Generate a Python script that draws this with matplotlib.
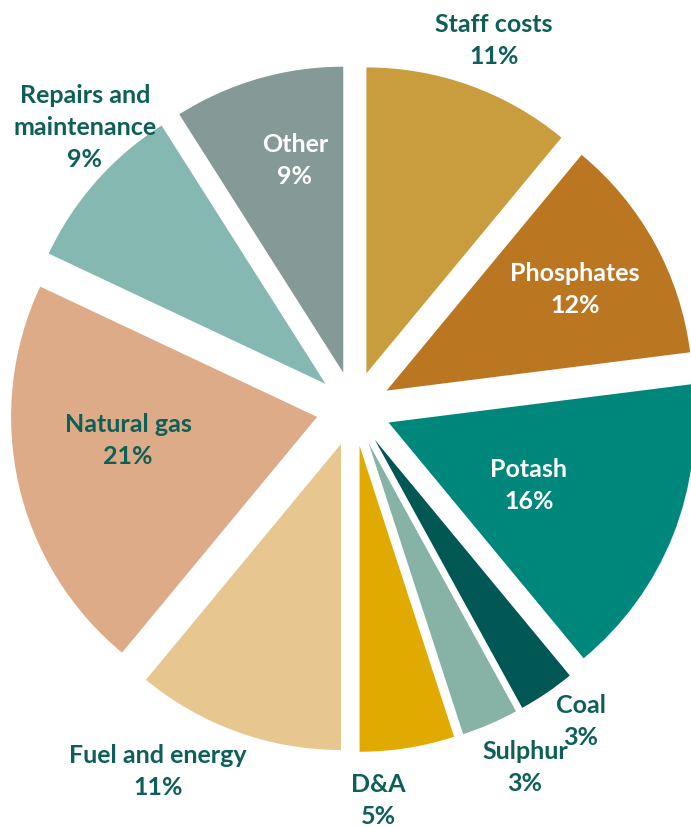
import matplotlib
matplotlib.use("Agg")
import matplotlib.pyplot as plt

# cost breakdown, clockwise from 12 o'clock
categories = ["Staff costs", "Phosphates", "Potash", "Coal", "Sulphur", "D&A",
              "Fuel and energy", "Natural gas", "Repairs and\nmaintenance", "Other"]
shares = [11, 12, 16, 3, 3, 5, 11, 21, 9, 9]

colors = ["#C99C3D", "#BB7621", "#00877B", "#005753", "#86B3A6", "#E0AA00",
          "#E8C690", "#DDAB88", "#86B8B2", "#859A96"]

TEAL = "#0E5F58"
text_colors = [TEAL, "white", "white", TEAL, TEAL, TEAL, TEAL, TEAL, TEAL, "white"]

# label anchors in pixels: x centre, baseline of the first line (from top)
label_pos = [(494, 32), (575, 281), (529, 477), (581, 713), (525, 759),
             (378, 792), (158, 763), (128, 432), (85, 103), (295, 152)]
LINE_STEP = 32

W, H = 691, 827
fig = plt.figure(figsize=(W / 100, H / 100), dpi=100)
ax = fig.add_axes([0, 0, 1, 1])

# explode is given in data units (pixels here)
R = 306
ax.pie(shares, colors=colors, startangle=90, counterclock=False,
       explode=[37.5] * len(shares), radius=R, center=(353.7, H - 408.7),
       wedgeprops=dict(linewidth=0))

ax.set_xlim(0, W)
ax.set_ylim(0, H)
ax.set_aspect("equal")
ax.axis("off")

for name, val, (x, y0), tc in zip(categories, shares, label_pos, text_colors):
    lines = name.split("\n") + [f"{val}%"]
    for i, line in enumerate(lines):
        ax.text(x, H - (y0 + i * LINE_STEP), line, ha="center", va="baseline",
                fontsize=18, fontweight="bold", color=tc,
                family=["Lato", "DejaVu Sans"])

fig.savefig("out.png", dpi=100)
